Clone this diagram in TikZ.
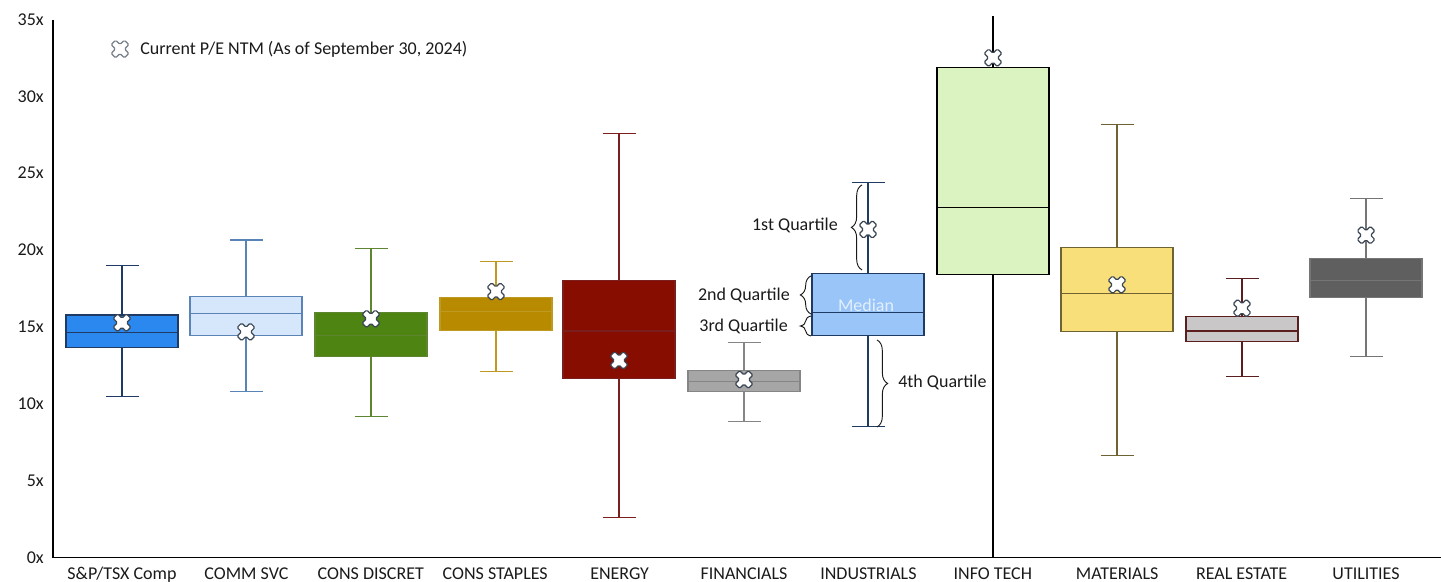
\documentclass[tikz,border=0pt]{standalone}
\usepackage{fontspec}
\setmainfont{Carlito}
\usetikzlibrary{decorations.pathreplacing}
\definecolor{txt}{HTML}{1A1A1A}
\definecolor{spf}{HTML}{2B88EE}\definecolor{spl}{HTML}{1F3B63}
\definecolor{csf}{HTML}{D6E7FC}\definecolor{csl}{HTML}{5A84B5}
\definecolor{cdf}{HTML}{4D8412}\definecolor{cdl}{HTML}{5E8530}
\definecolor{stf}{HTML}{B78A00}\definecolor{stl}{HTML}{BE9A22}
\definecolor{enf}{HTML}{870D00}\definecolor{enl}{HTML}{7A1E1E}
\definecolor{fif}{HTML}{A6A6A6}\definecolor{fil}{HTML}{858585}
\definecolor{inf}{HTML}{99C5F8}\definecolor{inl}{HTML}{1F3B63}
\definecolor{itf}{HTML}{DBF2C1}
\definecolor{maf}{HTML}{F9DF7A}\definecolor{mal}{HTML}{6F6233}
\definecolor{ref}{HTML}{C9C7C7}\definecolor{rel}{HTML}{5B1E1E}
\definecolor{utf}{HTML}{5F5F5F}\definecolor{utl}{HTML}{757575}
\definecolor{pexl}{HTML}{3B4654}
\definecolor{medc}{HTML}{E3EFFC}
% box plot: x, low, q1, median, q3, high, fill, line
\newcommand{\bp}[8]{%
  \draw[#8,wsk] (#1,#2) -- (#1,#3) (#1,#5) -- (#1,#6)
    (#1-16.5,#2) -- (#1+16.5,#2) (#1-16.5,#6) -- (#1+16.5,#6);
  \filldraw[fill=#7,draw=#8,wsk] (#1-56,#3) rectangle (#1+56,#5);
  \draw[#8,wsk] (#1-56,#4) -- (#1+56,#4);}
% current P/E cross
\newcommand{\curpe}[3][]{\draw[pex,#1,shift={(#2,#3)},rotate=45]
  (7pt,2.4pt) -- (2.4pt,2.4pt) -- (2.4pt,7pt) -- (-2.4pt,7pt) -- (-2.4pt,2.4pt)
  -- (-7pt,2.4pt) -- (-7pt,-2.4pt) -- (-2.4pt,-2.4pt) -- (-2.4pt,-7pt)
  -- (2.4pt,-7pt) -- (2.4pt,-2.4pt) -- (7pt,-2.4pt) -- cycle;}

\begin{document}
\begin{tikzpicture}[x=0.75pt,y=11.5275pt,
    every node/.style={text=txt,font=\fontsize{13.5}{16}\selectfont,inner sep=0pt},
    wsk/.style={line width=0.9pt},
    pex/.style={fill=white,draw=pexl,line width=0.9pt,rounded corners=1pt},
    qbrace/.style={decorate,decoration={brace,amplitude=8pt},draw=txt,line width=0.7pt}]
  \useasboundingbox (0,-1.594) rectangle (1441,36.27);
  % axes
  \draw[line width=0.9pt] (53,34.97) -- (53,0) -- (1441,0);
  \foreach \v in {0,5,...,35} \node[anchor=east] (tick\v) at (44,\v) {\v x};
  \foreach \n [count=\i from 0] in {{S\&P/TSX Comp},COMM SVC,CONS DISCRET,CONS STAPLES,ENERGY,
      FINANCIALS,INDUSTRIALS,INFO TECH,MATERIALS,REAL ESTATE,UTILITIES}
    \node[anchor=base] (cat\i) at (122+124.4*\i,-1.46) {\n};
  % legend
  \curpe[draw=pexl!70]{120}{33.08}
  \node[anchor=west] (leg) at (140,33.08) {Current P/E NTM (As of September 30, 2024)};
  % boxes
  \bp{122} {10.47}{13.64}{14.62}{15.77}{19.00}{spf}{spl} % S&P/TSX Comp
  \bp{246} {10.80}{14.44}{15.85}{16.98}{20.65}{csf}{csl} % COMM SVC
  \bp{371} { 9.17}{13.06}{14.46}{15.92}{20.08}{cdf}{cdl} % CONS DISCRET
  \bp{496} {12.10}{14.79}{16.00}{16.92}{19.28}{stf}{stl} % CONS STAPLES
  \bp{619} { 2.58}{11.63}{14.73}{18.04}{27.57}{enf}{enl} % ENERGY
  \bp{744} { 8.85}{10.78}{11.43}{12.17}{13.97}{fif}{fil} % FINANCIALS
  \bp{868} { 8.54}{14.46}{15.92}{18.46}{24.38}{inf}{inl} % INDUSTRIALS
  \draw[black,wsk] (993,0) -- (993,18.43) (993,31.88) -- (993,35.26);
  \bp{993} {18.43}{18.43}{22.75}{31.88}{31.88}{itf}{black} % INFO TECH
  \bp{1117}{ 6.66}{14.70}{17.18}{20.17}{28.15}{maf}{mal} % MATERIALS
  \bp{1242}{11.78}{14.03}{14.73}{15.66}{18.13}{ref}{rel} % REAL ESTATE
  \bp{1366}{13.08}{16.90}{18.04}{19.43}{23.34}{utf}{utl} % UTILITIES
  % current P/E
  \curpe{122}{15.27} \curpe{246}{14.68} \curpe{371}{15.53} \curpe{496}{17.30}
  \curpe{619}{12.82} \curpe{744}{11.58} \curpe{868}{21.34} \curpe{993}{32.51}
  \curpe{1117}{17.74} \curpe{1242}{16.22} \curpe{1366}{20.97}
  % quartile notes
  \node[text=medc] (med) at (866,16.43) {Median};
  \draw[qbrace] (862,18.71) -- (862,24.24);
  \node[anchor=east] (q1) at (838,21.57) {1st Quartile};
  \draw[qbrace] (811,15.84) -- (811,18.32);
  \node[anchor=east] (q2) at (790,17.08) {2nd Quartile};
  \draw[qbrace] (811,14.41) -- (811,15.71);
  \node[anchor=east] (q3) at (788,15.06) {3rd Quartile};
  \draw[qbrace] (877,14.15) -- (877,8.49);
  \node[anchor=west] (q4) at (898,11.42) {4th Quartile};
\end{tikzpicture}
\end{document}
